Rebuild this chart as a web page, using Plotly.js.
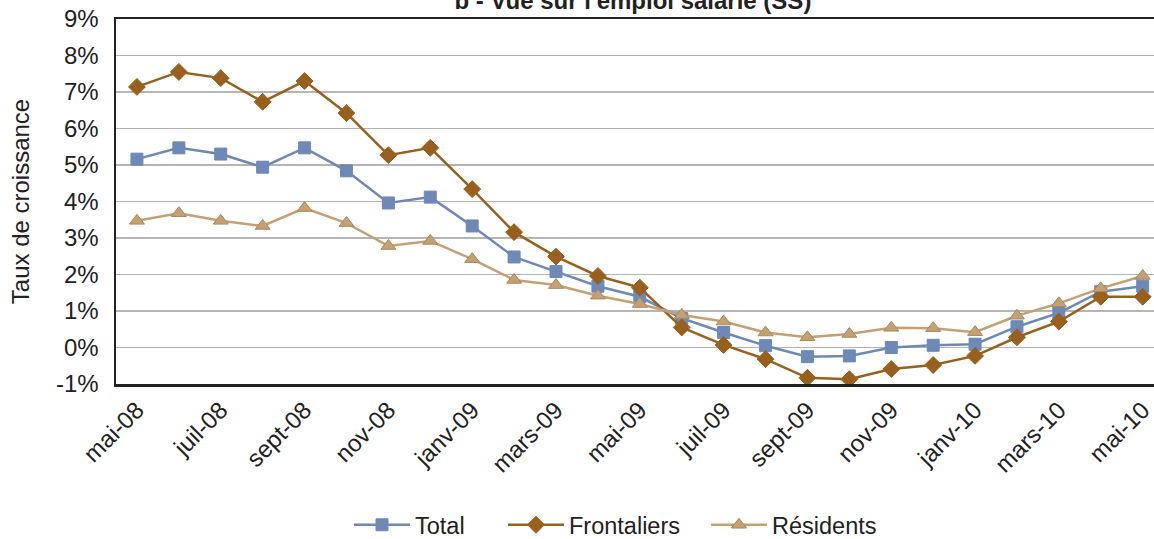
<!DOCTYPE html>
<html><head><meta charset="utf-8">
<script src="https://cdn.plot.ly/plotly-3.0.1.min.js"></script>
<style>html,body{margin:0;padding:0;background:#fff;overflow:hidden}</style>
</head><body>
<div id="chart" style="width:1154px;height:539px"></div>
<script>
const months = ["mai-08","juin-08","juil-08","août-08","sept-08","oct-08","nov-08","déc-08",
  "janv-09","févr-09","mars-09","avr-09","mai-09","juin-09","juil-09","août-09","sept-09","oct-09",
  "nov-09","déc-09","janv-10","févr-10","mars-10","avr-10","mai-10"];
const tickLabels = ["mai-08","juil-08","sept-08","nov-08","janv-09","mars-09","mai-09","juil-09",
  "sept-09","nov-09","janv-10","mars-10","mai-10"];
const yTickValues = [-1,0,1,2,3,4,5,6,7,8,9];
const yTickLabels = ["-1%","0%","1%","2%","3%","4%","5%","6%","7%","8%","9%"];
const total = [5.16,5.47,5.30,4.94,5.47,4.84,3.96,4.12,3.33,2.48,2.08,1.68,1.39,0.80,0.41,0.05,-0.25,-0.23,0.00,0.06,0.09,0.57,0.95,1.53,1.68];
const frontaliers = [7.14,7.55,7.38,6.73,7.30,6.42,5.27,5.47,4.34,3.16,2.49,1.96,1.64,0.55,0.07,-0.32,-0.83,-0.87,-0.59,-0.48,-0.23,0.28,0.71,1.39,1.39];
const residents = [3.47,3.68,3.47,3.33,3.82,3.41,2.78,2.92,2.42,1.85,1.71,1.42,1.19,0.89,0.71,0.41,0.28,0.37,0.54,0.53,0.42,0.87,1.21,1.62,1.96];

const font = "Liberation Sans, Arial, Helvetica, sans-serif";
function tr(name, y, color, symbol, size, lineColor, legend) {
  return {type:'scatter', mode:'lines+markers', name:name, x:months, y:y, legend:legend,
    line:{color:color, width:2.5},
    marker:{symbol:symbol, size:size, color:color, line:{color:lineColor||color, width:1}}};
}
const data = [
  tr('Total', total, '#6f89b6', 'square', 12, null, 'legend'),
  tr('Frontaliers', frontaliers, '#98601f', 'diamond', 13, null, 'legend2'),
  tr('Résidents', residents, '#c4a174', 'triangle-up', 13, '#a9885c', 'legend3')
];
function leg(px) {
  return {orientation:'h', x:px/1154, xref:'container', xanchor:'left',
    y:1 - 525/539, yref:'container', yanchor:'middle',
    font:{family:font, size:23.5, color:'#222'}, itemwidth:56, bgcolor:'rgba(0,0,0,0)'};
}
const layout = {
  width:1154, height:539,
  margin:{l:116, r:0, t:19, b:155},
  paper_bgcolor:'#fff', plot_bgcolor:'#fff',
  font:{family:font, color:'#222', size:24},
  title:{text:"<b>b - Vue sur l'emploi salarié (SS)</b>", font:{family:font, size:24, color:'#222'},
    x:0.498, xref:'paper', xanchor:'center', y:0.999, yref:'container', yanchor:'middle'},
  showlegend:true,
  legend:leg(349), legend2:leg(503), legend3:leg(706),
  xaxis:{type:'category', categoryorder:'array', categoryarray:months,
    range:[-0.5, 24.27], tickmode:'array', tickvals:tickLabels, ticktext:tickLabels,
    tickangle:-45, showgrid:false, zeroline:false, showline:true, linecolor:'#222', linewidth:2.5,
    mirror:true, ticks:'', automargin:false, tickfont:{family:font, size:24, color:'#222'}},
  yaxis:{range:[-1, 9], tickmode:'array', tickvals:yTickValues, ticktext:yTickLabels,
    showgrid:true, gridcolor:'#b5b5b5', gridwidth:1.3, automargin:false,
    zeroline:false, showline:true, linecolor:'#222', linewidth:2.5, ticks:'', ticklabelstandoff:10,
    tickfont:{family:font, size:24, color:'#222'},
    title:{text:'Taux de croissance', font:{family:font, size:24, color:'#222'}, standoff:20}}
};
Plotly.newPlot('chart', data, layout, {displayModeBar:false, staticPlot:true});
</script>
</body></html>
